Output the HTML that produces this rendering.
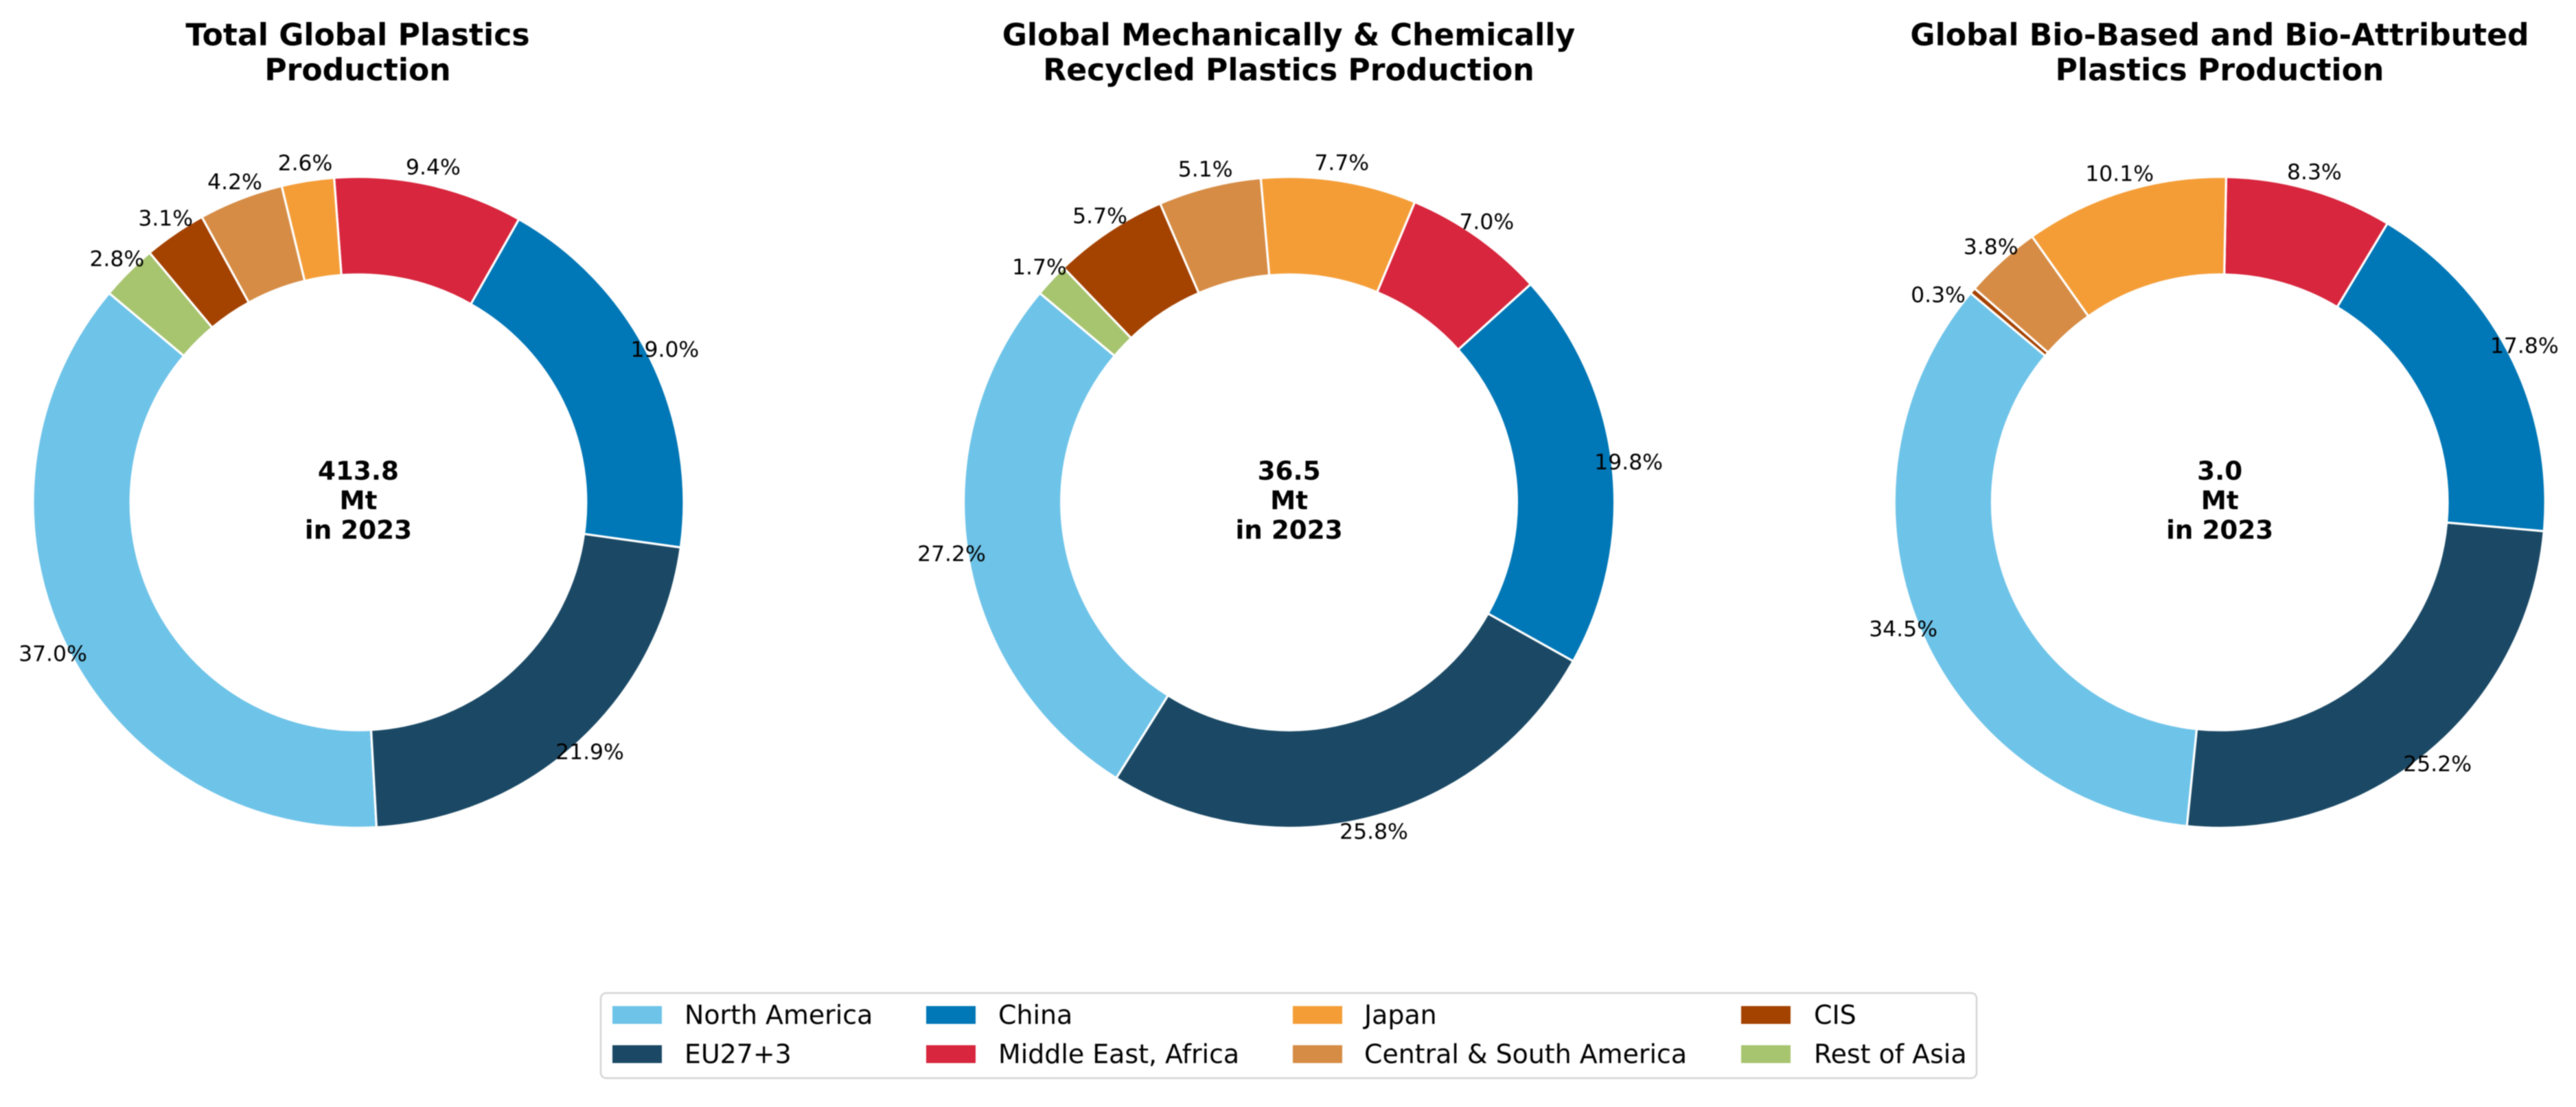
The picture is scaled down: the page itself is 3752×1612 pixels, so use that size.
<!DOCTYPE html>
<html lang="en">
<head>
<meta charset="utf-8">
<title>Global Plastics Production 2023</title>
<style>
  html, body { margin: 0; padding: 0; background: #fff; width: 3752px; height: 1612px; overflow: hidden; }
  svg { display: block; font-family: "DejaVu Sans", "Liberation Sans", sans-serif; filter: blur(0.8px); }
  .title { font-size: 44.1px; font-weight: 700; text-anchor: middle; fill: #000; }
  .center { font-size: 37.3px; font-weight: 700; text-anchor: middle; fill: #000; }
  .pct { font-size: 31.4px; text-anchor: middle; fill: #000; }
  .legend-label { font-size: 37.9px; fill: #000; }
</style>
</head>
<body>
<svg id="chart" xmlns="http://www.w3.org/2000/svg" width="3752" height="1612" viewBox="0 0 3752 1612">
  <rect width="3752" height="1612" fill="#ffffff"/>

  <g>
    <text class="title" x="521" y="66">Total Global Plastics</text>
    <text class="title" x="521" y="117">Production</text>
    <text class="title" x="1877" y="66">Global Mechanically &amp; Chemically</text>
    <text class="title" x="1877" y="117">Recycled Plastics Production</text>
    <text class="title" x="3233" y="66">Global Bio-Based and Bio-Attributed</text>
    <text class="title" x="3233" y="117">Plastics Production</text>
  </g>

  <g id="donuts"></g>

  <g>
    <rect x="875" y="1446" width="2004" height="124" rx="8" ry="8" fill="#ffffff" stroke="#d4d4d4" stroke-width="2.5"/>

    <rect x="892" y="1465" width="72" height="26" fill="#6EC3E8"/>
    <text class="legend-label" x="997" y="1491">North America</text>
    <rect x="892" y="1522" width="72" height="26" fill="#1B4965"/>
    <text class="legend-label" x="997" y="1548">EU27+3</text>

    <rect x="1349" y="1465" width="72" height="26" fill="#0077B6"/>
    <text class="legend-label" x="1454" y="1491">China</text>
    <rect x="1349" y="1522" width="72" height="26" fill="#D7263D"/>
    <text class="legend-label" x="1454" y="1548">Middle East, Africa</text>

    <rect x="1883" y="1465" width="72" height="26" fill="#F49D37"/>
    <text class="legend-label" x="1987" y="1491">Japan</text>
    <rect x="1883" y="1522" width="72" height="26" fill="#D68C45"/>
    <text class="legend-label" x="1987" y="1548">Central &amp; South America</text>

    <rect x="2536" y="1465" width="72" height="26" fill="#A44200"/>
    <text class="legend-label" x="2642" y="1491">CIS</text>
    <rect x="2536" y="1522" width="72" height="26" fill="#A7C46F"/>
    <text class="legend-label" x="2642" y="1548">Rest of Asia</text>
  </g>
</svg>

<script>
// Data, in wedge order (counter-clockwise from the start angle)
const regions = ["North America", "EU27+3", "China", "Middle East, Africa", "Japan", "Central & South America", "CIS", "Rest of Asia"];
const totalShares = [37.0, 21.9, 19.0, 9.4, 2.6, 4.2, 3.1, 2.8];
const recycledShares = [27.2, 25.8, 19.8, 7.0, 7.7, 5.1, 5.7, 1.7];
const bioShares = [34.5, 25.2, 17.8, 8.3, 10.1, 3.8, 0.3, 0];
const centerTotals = ["413.8", "36.5", "3.0"];
const chartKeys = ["total-plastics", "recycled-plastics", "bio-plastics"];
const regionColors = ["#6EC3E8", "#1B4965", "#0077B6", "#D7263D", "#F49D37", "#D68C45", "#A44200", "#A7C46F"];

const SVG_NS = "http://www.w3.org/2000/svg";
const OUTER_R = 474;
const INNER_R = OUTER_R * 0.7;
const LABEL_R = OUTER_R * 1.05;
const START_DEG = 140;
const CENTER_Y = 731.5;

function chartCenterX(i) { return 522 + 1355.6 * i; }
function angleOf(cumulative, sum) { return (START_DEG + (cumulative / sum) * 360) * Math.PI / 180; }
function polarX(cx, r, a) { return cx + r * Math.cos(a); }
function polarY(r, a) { return CENTER_Y - r * Math.sin(a); }
function slug(s) { return s.toLowerCase().replace(/[^a-z0-9]+/g, "-").replace(/^-|-$/g, ""); }

function wedgePath(cx, a0, a1) {
  const large = (a1 - a0) > Math.PI ? 1 : 0;
  return "M" + polarX(cx, OUTER_R, a0) + " " + polarY(OUTER_R, a0) +
    "A" + OUTER_R + " " + OUTER_R + " 0 " + large + " 0 " + polarX(cx, OUTER_R, a1) + " " + polarY(OUTER_R, a1) +
    "L" + polarX(cx, INNER_R, a1) + " " + polarY(INNER_R, a1) +
    "A" + INNER_R + " " + INNER_R + " 0 " + large + " 1 " + polarX(cx, INNER_R, a0) + " " + polarY(INNER_R, a0) + "Z";
}

function drawDonut(values, i) {
  const host = document.getElementById("donuts");
  const cx = chartCenterX(i);
  const sum = values.reduce(function (a, b) { return a + b; }, 0);

  const group = document.createElementNS(SVG_NS, "g");
  
  
  host.appendChild(group);

  let cumulative = 0;
  values.forEach(function (v, k) {
    if (v > 0) {
      const a0 = angleOf(cumulative, sum);
      const a1 = angleOf(cumulative + v, sum);
      const wedge = document.createElementNS(SVG_NS, "path");
      wedge.setAttribute("d", wedgePath(cx, a0, a1));
      wedge.setAttribute("fill", regionColors[k]);
      wedge.setAttribute("stroke", "#ffffff");
      wedge.setAttribute("stroke-width", "3.2");
      wedge.setAttribute("stroke-linejoin", "round");
      
      
      group.appendChild(wedge);
    }
    cumulative += v;
  });

  cumulative = 0;
  values.forEach(function (v, k) {
    if (v > 0) {
      const mid = angleOf(cumulative + v / 2, sum);
      // Very thin wedges have their label pushed clear of the neighbouring label.
      const nudgeX = v < 1 ? -32 : 0;
      const nudgeY = v < 1 ? 24 : 0;
      const label = document.createElementNS(SVG_NS, "text");
      label.setAttribute("class", "pct");
      label.setAttribute("x", polarX(cx, LABEL_R, mid) + nudgeX);
      label.setAttribute("y", polarY(LABEL_R, mid) + 8 + nudgeY);
      label.textContent = v.toFixed(1) + "%";
      
      
      group.appendChild(label);
    }
    cumulative += v;
  });

  const centerLines = [centerTotals[i], "Mt", "in 2023"];
  const centerSlugs = ["value", "unit", "year"];
  centerLines.forEach(function (line, n) {
    const t = document.createElementNS(SVG_NS, "text");
    t.setAttribute("class", "center");
    t.setAttribute("x", cx);
    t.setAttribute("y", CENTER_Y + 43 * (n - 1) + 10);
    t.textContent = line;
    
    
    group.appendChild(t);
  });
}

drawDonut(totalShares, 0);
drawDonut(recycledShares, 1);
drawDonut(bioShares, 2);
</script>
</body>
</html>
